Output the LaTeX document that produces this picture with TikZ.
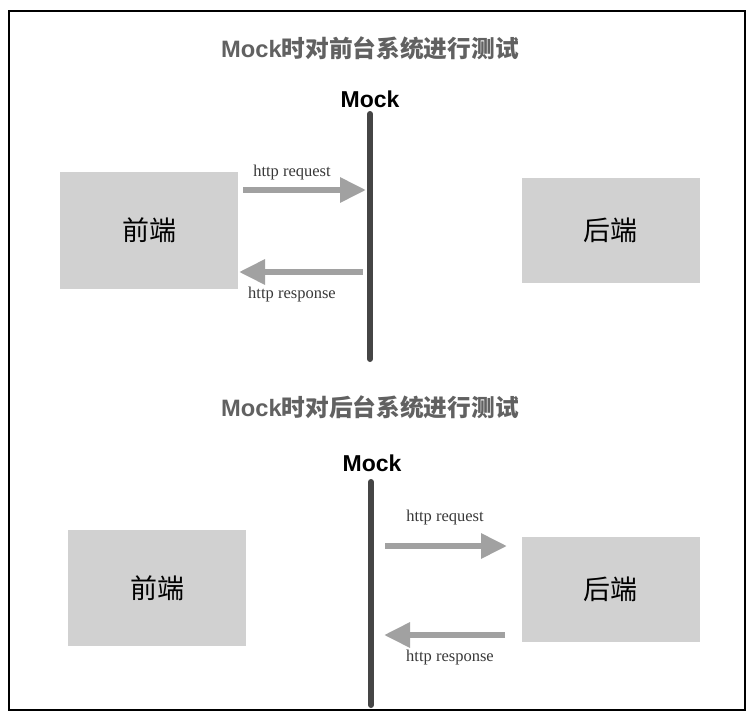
\documentclass[tikz,border=0pt]{standalone}
\usepackage{fontspec}
\setsansfont{Liberation Sans}
\newfontfamily\cjk{Noto Sans CJK SC}
\newfontfamily\lblfont{Liberation Serif}
\usetikzlibrary{arrows.meta}
\definecolor{box1}{gray}{.82}
\definecolor{arr1}{gray}{.63}
\definecolor{line1}{gray}{.27}
\definecolor{title1}{gray}{.38}
\tikzset{
  sysbox/.style={fill=box1, draw=none, inner sep=0pt, minimum width=178pt, font=\cjk\fontsize{27}{27}\selectfont},
  httparr/.style={draw=arr1, line width=6pt, -{Triangle[length=26pt,width=24pt]}},
  httplbl/.style={text=black!78, font=\lblfont\fontsize{16.5}{16.5}\selectfont},
  mocklbl/.style={font=\sffamily\bfseries\fontsize{23}{23}\selectfont},
  ttl/.style={text=title1, font=\bfseries\fontsize{23.7}{23.7}\selectfont},
  mockline/.style={draw=line1, line width=6pt, line cap=round},
}
\begin{document}
\begin{tikzpicture}[x=1pt, y=-1pt] % 1 unit = 1 px
\useasboundingbox (0,0) rectangle (755,720);
\draw[line width=1.5pt] (9,11) rectangle (745,710);
%% upper half: mock for the front end
\node[ttl] (title1) at (370,48) {{\sffamily Mock}{\cjk 时对前台系统进行测试}};
\node[mocklbl] (mock1) at (370,99) {Mock};
\coordinate (m1t) at (370,114);
\coordinate (m1b) at (370,359);
\draw[mockline] (m1t) -- (m1b);
\node[sysbox, minimum height=117pt] (front1) at (149,230.5) {前端};
\node[sysbox, minimum height=105pt] (back1) at (610.5,230.5) {后端};
\coordinate (req1s) at (243,190);
\coordinate (req1e) at (366,190);
\coordinate (res1s) at (363,272);
\coordinate (res1e) at (239,272);
\draw[httparr] (req1s) -- (req1e);
\draw[httparr] (res1s) -- (res1e);
\node[httplbl] (req1) at (292,173) {http request};
\node[httplbl] (res1) at (292,295) {http response};
%% lower half: mock for the back end
\node[ttl] (title2) at (370,407) {{\sffamily Mock}{\cjk 时对后台系统进行测试}};
\node[mocklbl] (mock2) at (372,463) {Mock};
\coordinate (m2t) at (371,482);
\coordinate (m2b) at (371,705);
\draw[mockline] (m2t) -- (m2b);
\node[sysbox, minimum height=116pt] (front2) at (157,588) {前端};
\node[sysbox, minimum height=105pt] (back2) at (610.5,589.5) {后端};
\coordinate (req2s) at (385,546);
\coordinate (req2e) at (507,546);
\coordinate (res2s) at (505,635);
\coordinate (res2e) at (384,635);
\draw[httparr] (req2s) -- (req2e);
\draw[httparr] (res2s) -- (res2e);
\node[httplbl] (req2) at (445,518) {http request};
\node[httplbl] (res2) at (450,658) {http response};
\end{tikzpicture}
\end{document}
